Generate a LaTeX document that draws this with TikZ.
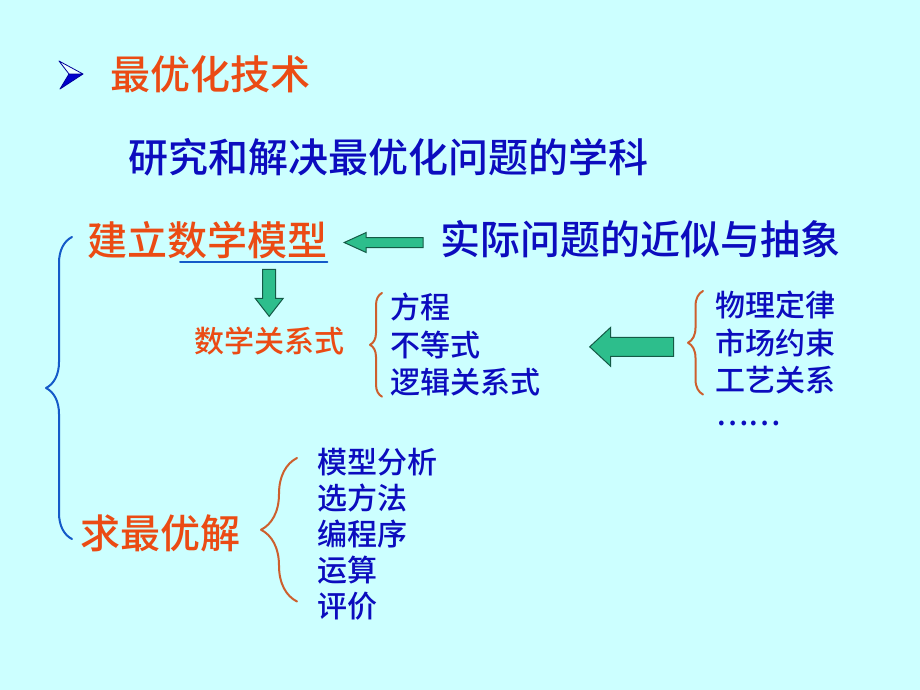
\documentclass[tikz,border=0pt]{standalone}
\usepackage{fontspec}
\newfontfamily\cjk{Noto Sans CJK SC}[BoldFont={Noto Sans CJK SC Medium}]
\usetikzlibrary{calc,decorations.pathreplacing}
\definecolor{bgcyan}{RGB}{204,255,255}
\definecolor{titlered}{RGB}{235,75,20}
\definecolor{textblue}{RGB}{12,12,190}
\definecolor{braceblue}{RGB}{20,90,200}
\definecolor{bracebrown}{RGB}{205,95,45}
\definecolor{arrowgreen}{RGB}{45,190,140}
\definecolor{arrowedge}{RGB}{20,90,70}
\tikzset{
  pics/blockarrow/.style args={#1/#2/#3/#4}{code={
    \draw[arrowedge,fill=arrowgreen,line width=1pt,line join=miter]
      (-#1/2,0) -- (-#1/2+#2,-#3) -- (-#1/2+#2,-#4) -- (#1/2,-#4)
      -- (#1/2,#4) -- (-#1/2+#2,#4) -- (-#1/2+#2,#3) -- cycle;}}
}
\begin{document}
\begin{tikzpicture}[x=1pt,y=-1pt,line join=round,line cap=round,
  big/.style={font=\cjk\bfseries\fontsize{40}{48}\selectfont,inner sep=0pt,anchor=west},
  small/.style={font=\cjk\bfseries\fontsize{30}{37.5}\selectfont,inner sep=0pt,align=left},
  brace/.style={decorate,decoration={brace,amplitude=#1},line width=2pt}]
  \fill[bgcyan] (0,0) rectangle (920,690);
  \useasboundingbox (0,0) rectangle (920,690);
  % bullet
  \fill[blue!80!black] (69,74) -- (83,74) -- (60,89) -- cycle;
  \draw[blue!60!black,fill=white!60!bgcyan,line width=.8pt] (59,61) -- (83,74) -- (69,74) -- cycle;
  \draw[blue!60!black,line width=.8pt] (83,74) -- (60,89) -- (69,74);
  \node[big,titlered] (title) at (110,74) {最优化技术};
  \node[big,textblue] (sub) at (128,157) {研究和解决最优化问题的学科};
  \node[big,titlered] (build) at (87,240) {建立数学模型};
  \node[big,textblue] (real) at (440,239) {实际问题的近似与抽象};
  \node[small,titlered,anchor=west] (mathrel) at (194,341) {数学关系式};
  \node[small,textblue,anchor=north west] (eqs) at (390,293) {方程\\不等式\\逻辑关系式};
  \node[small,textblue,anchor=north west] (phys) at (715,291) {物理定律\\市场约束\\工艺关系};
  \node[small,textblue,anchor=west] (dots) at (716,423) {……};
  \node[big,titlered] (solve) at (80,533) {求最优解};
  \node[small,textblue,anchor=north west,font=\cjk\bfseries\fontsize{30}{36}\selectfont] (steps) at (317,448) {模型分析\\选方法\\编程序\\运算\\评价};
  \draw[braceblue,line width=2pt] ([xshift=93pt,yshift=-3pt]build.south west) -- ([yshift=-3pt]build.south east);
  \pic at ($(build.east)!.5!(real.west)+(0,3)$) {blockarrow=79/22/10/5};
  \pic[rotate=90] at ($(mathrel.north)!.5!(mathrel.north |- build.south)$) {blockarrow=47/18/14/6.5};
  \pic at ($(eqs.east)!.5!(eqs.east -| phys.west)+(4,2)$) {blockarrow=84/21/19.5/9.5};
  \draw[braceblue,brace=26pt] ([xshift=-8pt,yshift=-6pt]solve.west) -- ([xshift=-15pt,yshift=3pt]build.west);
  \draw[bracebrown,brace=12pt] ([xshift=-8pt]eqs.south west) -- ([xshift=-8pt]eqs.north west);
  \draw[bracebrown,brace=15pt] ([xshift=-12pt]phys.south west) -- ([xshift=-12pt]phys.north west);
  \draw[bracebrown,brace=36pt] ([xshift=-20pt,yshift=19pt]steps.south west) -- ([xshift=-20pt,yshift=-10pt]steps.north west);
\end{tikzpicture}
\end{document}
